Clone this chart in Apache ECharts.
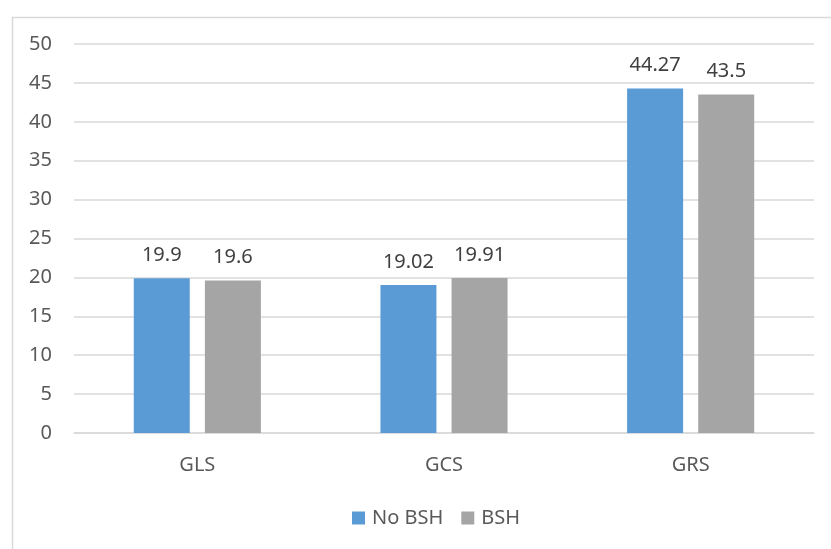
<!DOCTYPE html>
<html><head><meta charset="utf-8">
<script src="https://cdn.jsdelivr.net/npm/echarts@6/dist/echarts.min.js"></script>
<style>html,body{margin:0;padding:0;background:#fff}#c{width:831px;height:549px}</style>
</head><body><div id="c"></div>
<script>
const categories = ['GLS', 'GCS', 'GRS'];
const noBSH = [19.9, 19.02, 44.27];
const bsh = [19.6, 19.91, 43.5];
const seriesNames = ['No BSH', 'BSH'];

const chart = echarts.init(document.getElementById('c'));
const font = '"Noto Sans", "Open Sans", sans-serif';
chart.setOption({
  animation: false,
  textStyle: { fontFamily: font },
  graphic: [{
    type: 'rect', left: 10, top: 15, silent: true,
    shape: { x: 0, y: 0, width: 840, height: 560 },
    style: { fill: 'none', stroke: '#d9d9d9', lineWidth: 1.5 }
  }],
  grid: { left: 74, right: 17, top: 44, bottom: 116 },
  legend: {
    bottom: 16, left: 347, itemWidth: 13, itemHeight: 13, itemGap: 18,
    icon: 'rect',
    textStyle: { fontSize: 20, color: '#595959', fontFamily: font, padding: [0, 0, 0, 2] },
    data: seriesNames
  },
  xAxis: {
    type: 'category', data: categories,
    axisLine: { lineStyle: { color: '#d9d9d9', width: 1.5 } },
    axisTick: { show: false },
    axisLabel: { fontSize: 20, color: '#595959', margin: 22, fontFamily: font }
  },
  yAxis: {
    type: 'value', min: 0, max: 50, interval: 5,
    axisLine: { show: false }, axisTick: { show: false },
    axisLabel: { fontSize: 20, color: '#595959', margin: 22, fontFamily: font },
    splitLine: { lineStyle: { color: '#d9d9d9', width: 1.5 } }
  },
  series: [
    { name: seriesNames[0], type: 'bar', data: noBSH, barWidth: 56, barGap: '27%',
      itemStyle: { color: '#5b9bd5' },
      label: { show: true, position: 'top', distance: 13, fontSize: 20, color: '#404040', fontFamily: font } },
    { name: seriesNames[1], type: 'bar', data: bsh, barWidth: 56,
      itemStyle: { color: '#a5a5a5' },
      label: { show: true, position: 'top', distance: 13, fontSize: 20, color: '#404040', fontFamily: font } }
  ]
});
</script></body></html>
